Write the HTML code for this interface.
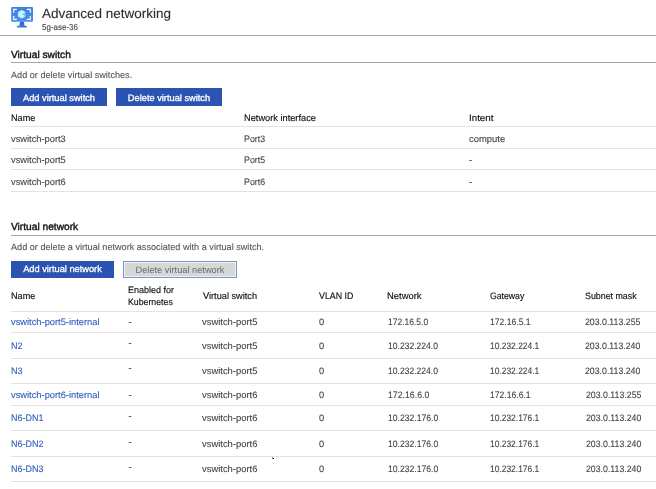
<!DOCTYPE html>
<html><head><meta charset="utf-8">
<style>
html,body{margin:0;padding:0;background:#fff;width:656px;height:489px;overflow:hidden;position:relative}
body{font-family:"Liberation Sans",sans-serif;-webkit-font-smoothing:antialiased;text-rendering:geometricPrecision}
#wrap{position:absolute;left:0;top:0;width:656px;height:489px;will-change:transform}
.t{position:absolute;white-space:nowrap;font-size:9.3px;line-height:12px;color:#444444;transform-origin:0 0;-webkit-text-stroke:0.1px currentColor}
.h{color:#111111;-webkit-text-stroke:0.15px #111111}
.sec{font-size:10.2px;color:#141414;-webkit-text-stroke:0.4px #141414}
.lk{color:#2d5cbf}
.ln{position:absolute;right:0;height:1px;background:#e3e3e3}
.hl{position:absolute;height:1px;background:#a6a6a6}
.btn{position:absolute;height:18px;background:#2b53b2;color:#fff;font-size:9.25px;line-height:18px;text-align:center;white-space:nowrap;-webkit-text-stroke:0.3px #fff}
.dis{position:absolute;height:15px;border:1px solid #7b97d2;background:#d7d7d7;box-shadow:inset 0 0 0 1px #f1eee6;color:#6a6a6a;font-size:9.25px;line-height:16px;text-align:center;white-space:nowrap}
</style></head><body><div id="wrap">
<svg style="position:absolute;left:10px;top:6px" width="24" height="23" viewBox="0 0 24 23">
 <defs><linearGradient id="g1" x1="0" y1="0" x2="0" y2="1"><stop offset="0" stop-color="#3f7fe0"/><stop offset="1" stop-color="#5190e8"/></linearGradient>
 <linearGradient id="g2" x1="0" y1="0" x2="0" y2="1"><stop offset="0" stop-color="#2a5fc0"/><stop offset="1" stop-color="#3b78d8"/></linearGradient><filter id="bl" x="-50%" y="-50%" width="200%" height="200%"><feGaussianBlur stdDeviation="0.5"/></filter></defs>
 <rect x="1.2" y="1" width="21.8" height="14.7" rx="1" fill="url(#g1)"/>
 <path d="M10 15.7H13.9L14.6 19.9H9.3Z" fill="url(#g2)"/>
 <rect x="6.8" y="19.8" width="10.1" height="1.8" rx="0.8" fill="#3577dc"/>
 <g stroke="#f4f8ff" stroke-width="1.2" fill="none">
  <path d="M3.7 6.8V3.4H6.8"/><path d="M16.9 3.4H20.3V6.8"/><path d="M3.7 10V13.4H6.8"/><path d="M16.9 13.4H20.3V10"/>
 </g>
 <path d="M11.8 4.1L15.3 5.9V10.6L11.8 12.4L8.1 10.6V5.9Z" fill="#c6f3fc"/>
 <path d="M15.3 6.3L12.2 8.3L15.3 10.3Z" fill="#3fd9f6" filter="url(#bl)"/>
</svg>
<div class="t" style="left:42px;top:5.5px;font-size:13.5px;line-height:16px;color:#2b2b2b">Advanced networking</div>
<div class="t" style="left:42px;top:23px;font-size:8.6px;line-height:9px;color:#454545;transform:scaleX(0.93)">5g-ase-36</div>
<div class="hl" style="left:0;right:0;top:35px"></div>

<div class="t sec" style="left:11px;top:50px">Virtual switch</div>
<div class="hl" style="left:11px;right:0;top:62px"></div>
<div class="t" style="left:11px;top:69px;font-size:9.15px;color:#555555">Add or delete virtual switches.</div>
<div class="btn" style="left:11px;top:88px;width:96px;line-height:20px">Add virtual switch</div>
<div class="btn" style="left:116px;top:88px;width:106px;line-height:20px">Delete virtual switch</div>

<div class="t sec" style="left:11px;top:222px">Virtual network</div>
<div class="hl" style="left:11px;right:0;top:235px"></div>
<div class="t" style="left:11px;top:241px;font-size:9.15px;color:#555555">Add or delete a virtual network associated with a virtual switch.</div>
<div class="btn" style="left:11px;top:261px;width:103px;height:17px;line-height:17px">Add virtual network</div>
<div class="dis" style="left:123px;top:261px;width:112px">Delete virtual network</div>

<div class="ln" style="top:126px;left:11px"></div>
<div class="ln" style="top:148px;left:11px"></div>
<div class="ln" style="top:169px;left:11px"></div>
<div class="ln" style="top:191px;left:11px"></div>
<div class="ln" style="top:311px;left:11px"></div>
<div class="ln" style="top:332px;left:11px"></div>
<div class="ln" style="top:358px;left:11px"></div>
<div class="ln" style="top:383px;left:11px"></div>
<div class="ln" style="top:405px;left:11px"></div>
<div class="ln" style="top:430px;left:11px"></div>
<div class="ln" style="top:456px;left:11px"></div>
<div class="ln" style="top:481px;left:11px"></div>
<div class="t h" id="i0" style="left:10.8px;top:112px;transform:scaleX(0.9793);">Name</div>
<div class="t h" id="i1" style="left:243.5px;top:112px;transform:scaleX(0.9939);">Network interface</div>
<div class="t h" id="i2" style="left:469px;top:112px;transform:scaleX(1.0488);">Intent</div>
<div class="t " id="i3" style="left:10.8px;top:132.5px;transform:scaleX(1.0006);">vswitch-port3</div>
<div class="t " id="i4" style="left:243.5px;top:132.5px;transform:scaleX(0.9490);">Port3</div>
<div class="t " id="i5" style="left:469px;top:132.5px;transform:scaleX(1.0148);">compute</div>
<div class="t " id="i6" style="left:10.8px;top:154px;transform:scaleX(1.0006);">vswitch-port5</div>
<div class="t " id="i7" style="left:243.5px;top:154px;transform:scaleX(0.9490);">Port5</div>
<div class="t " id="i8" style="left:469px;top:154px;">-</div>
<div class="t " id="i9" style="left:10.8px;top:175.5px;transform:scaleX(1.0006);">vswitch-port6</div>
<div class="t " id="i10" style="left:243.5px;top:175.5px;transform:scaleX(0.9490);">Port6</div>
<div class="t " id="i11" style="left:469px;top:175.5px;">-</div>
<div class="t h" id="i12" style="left:10.8px;top:290px;transform:scaleX(0.9793);">Name</div>
<div class="t h" id="i13" style="left:127.5px;top:284px;transform:scaleX(0.9650);">Enabled for</div>
<div class="t h" id="i14" style="left:127.5px;top:296px;transform:scaleX(0.9419);">Kubernetes</div>
<div class="t h" id="i15" style="left:202.5px;top:290px;transform:scaleX(0.9907);">Virtual switch</div>
<div class="t h" id="i16" style="left:319px;top:290px;transform:scaleX(0.9483);">VLAN ID</div>
<div class="t h" id="i17" style="left:387px;top:290px;transform:scaleX(1.0115);">Network</div>
<div class="t h" id="i18" style="left:490px;top:290px;transform:scaleX(0.9345);">Gateway</div>
<div class="t h" id="i19" style="left:584.5px;top:290px;transform:scaleX(0.9509);">Subnet mask</div>
<div class="t lk" id="i20" style="left:10.7px;top:316.3px;transform:scaleX(1.0016);">vswitch-port5-internal</div>
<div class="t " id="i21" style="left:128.5px;top:316.3px;">-</div>
<div class="t " id="i22" style="left:202.2px;top:316.3px;transform:scaleX(1.0116);">vswitch-port5</div>
<div class="t n" id="i23" style="left:319px;top:316.3px;">0</div>
<div class="t n" id="i24" style="left:387.5px;top:316.3px;transform:scaleX(0.9146);">172.16.5.0</div>
<div class="t n" id="i25" style="left:490px;top:316.3px;transform:scaleX(0.9237);">172.16.5.1</div>
<div class="t n" id="i26" style="left:585px;top:316.3px;transform:scaleX(0.9427);">203.0.113.255</div>
<div class="t lk" id="i27" style="left:11.2px;top:340.2px;transform:scaleX(0.9756);">N2</div>
<div class="t " id="i28" style="left:128.5px;top:337.2px;">-</div>
<div class="t " id="i29" style="left:202.2px;top:340.2px;transform:scaleX(1.0116);">vswitch-port5</div>
<div class="t n" id="i30" style="left:319px;top:340.2px;">0</div>
<div class="t n" id="i31" style="left:387.5px;top:340.2px;transform:scaleX(0.9209);">10.232.224.0</div>
<div class="t n" id="i32" style="left:490px;top:340.2px;transform:scaleX(0.9080);">10.232.224.1</div>
<div class="t n" id="i33" style="left:585px;top:340.2px;transform:scaleX(0.9410);">203.0.113.240</div>
<div class="t lk" id="i34" style="left:11.2px;top:365.3px;transform:scaleX(0.9756);">N3</div>
<div class="t " id="i35" style="left:128.5px;top:362.3px;">-</div>
<div class="t " id="i36" style="left:202.2px;top:365.3px;transform:scaleX(1.0116);">vswitch-port5</div>
<div class="t n" id="i37" style="left:319px;top:365.3px;">0</div>
<div class="t n" id="i38" style="left:387.5px;top:365.3px;transform:scaleX(0.9209);">10.232.224.0</div>
<div class="t n" id="i39" style="left:490px;top:365.3px;transform:scaleX(0.9080);">10.232.224.1</div>
<div class="t n" id="i40" style="left:585px;top:365.3px;transform:scaleX(0.9410);">203.0.113.240</div>
<div class="t lk" id="i41" style="left:10.7px;top:389.2px;transform:scaleX(1.0016);">vswitch-port6-internal</div>
<div class="t " id="i42" style="left:128.5px;top:389.2px;">-</div>
<div class="t " id="i43" style="left:202.2px;top:389.2px;transform:scaleX(1.0116);">vswitch-port6</div>
<div class="t n" id="i44" style="left:319px;top:389.2px;">0</div>
<div class="t n" id="i45" style="left:387.5px;top:389.2px;transform:scaleX(0.9396);">172.16.6.0</div>
<div class="t n" id="i46" style="left:490px;top:389.2px;transform:scaleX(0.9237);">172.16.6.1</div>
<div class="t n" id="i47" style="left:586px;top:389.2px;transform:scaleX(0.9427);">203.0.113.255</div>
<div class="t lk" id="i48" style="left:11.2px;top:412.4px;transform:scaleX(0.9645);">N6-DN1</div>
<div class="t " id="i49" style="left:128.5px;top:410.4px;">-</div>
<div class="t " id="i50" style="left:202.2px;top:412.4px;transform:scaleX(1.0116);">vswitch-port6</div>
<div class="t n" id="i51" style="left:319px;top:412.4px;">0</div>
<div class="t n" id="i52" style="left:387.5px;top:412.4px;transform:scaleX(0.9264);">10.232.176.0</div>
<div class="t n" id="i53" style="left:490px;top:412.4px;transform:scaleX(0.9080);">10.232.176.1</div>
<div class="t n" id="i54" style="left:586px;top:412.4px;transform:scaleX(0.9410);">203.0.113.240</div>
<div class="t lk" id="i55" style="left:11.2px;top:437.6px;transform:scaleX(0.9645);">N6-DN2</div>
<div class="t " id="i56" style="left:128.5px;top:435.6px;">-</div>
<div class="t " id="i57" style="left:202.2px;top:437.6px;transform:scaleX(1.0116);">vswitch-port6</div>
<div class="t n" id="i58" style="left:319px;top:437.6px;">0</div>
<div class="t n" id="i59" style="left:387.5px;top:437.6px;transform:scaleX(0.9264);">10.232.176.0</div>
<div class="t n" id="i60" style="left:490px;top:437.6px;transform:scaleX(0.9080);">10.232.176.1</div>
<div class="t n" id="i61" style="left:586px;top:437.6px;transform:scaleX(0.9410);">203.0.113.240</div>
<div class="t lk" id="i62" style="left:11.2px;top:463.4px;transform:scaleX(0.9645);">N6-DN3</div>
<div class="t " id="i63" style="left:128.5px;top:461.4px;">-</div>
<div class="t " id="i64" style="left:202.2px;top:463.4px;transform:scaleX(1.0116);">vswitch-port6</div>
<div class="t n" id="i65" style="left:319px;top:463.4px;">0</div>
<div class="t n" id="i66" style="left:387.5px;top:463.4px;transform:scaleX(0.9264);">10.232.176.0</div>
<div class="t n" id="i67" style="left:490px;top:463.4px;transform:scaleX(0.9080);">10.232.176.1</div>
<div class="t n" id="i68" style="left:586px;top:463.4px;transform:scaleX(0.9410);">203.0.113.240</div>
<div style="position:absolute;left:273px;top:458px;width:1px;height:1px;background:#000"></div><div style="position:absolute;left:272px;top:457px;width:1px;height:1px;background:#888"></div><div style="position:absolute;left:272px;top:458px;width:1px;height:1px;background:#999"></div><div style="position:absolute;left:342px;top:265px;width:1px;height:1px;background:#e4e4e4"></div>
</div></body></html>
